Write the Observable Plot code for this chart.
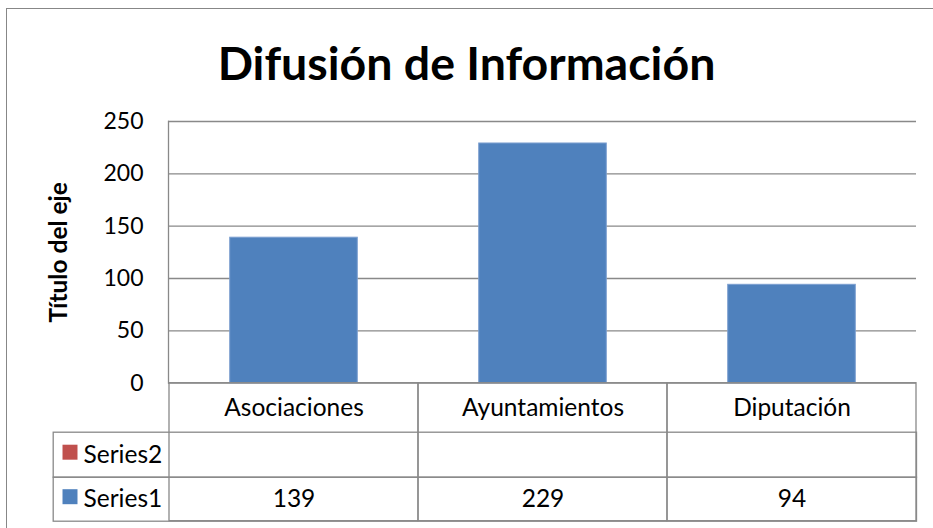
<!DOCTYPE html>
<html><head><meta charset="utf-8">
<script src="https://cdn.jsdelivr.net/npm/d3@7"></script>
<script src="https://cdn.jsdelivr.net/npm/@observablehq/plot@0.6"></script>
<style>
html,body{margin:0;background:#fff;overflow:hidden;width:933px;height:528px}
#wrap{position:relative;width:933px;height:528px;overflow:hidden}
#border{position:absolute;left:6px;top:8px;width:1000px;height:1000px;border:1.5px solid #878787;pointer-events:none}
</style>
</head><body><div id="wrap"><div id="chart"></div><div id="border"></div></div>
<script>
const categories = ["Asociaciones", "Ayuntamientos", "Diputación"];
const series1 = [139, 229, 94];
const series2 = [null, null, null];
const seriesNames = ["Series2", "Series1"];
const seriesColors = ["#c0504d", "#4f81bd"];
const yTicks = [0, 50, 100, 150, 200, 250];
const title = "Difusión de Información";
const yTitle = "Título del eje";

const W = 933, H = 528, mL = 168, mR = 17, mT = 121, plotBottom = 382.7;
const mB = H - plotBottom;
const frameH = plotBottom - mT;
const headerH = 49, rowH1 = 45, rowH2 = 44;
const tableOff = headerH + rowH1 + rowH2;
const legendLeft = 52.7;
const gridColor = "#898989";
const font = "Lato, sans-serif";
const textSize = 24.5;

const bars = categories.map((c, i) => ({category: c, value: series1[i], value2: series2[i]}));
const bandW = (W - mL - mR) / categories.length;
const barInset = bandW * 0.2435;

const rowDefs = [
  {name: seriesNames[0], color: seriesColors[0], top: headerH, h: rowH1, key: "value2"},
  {name: seriesNames[1], color: seriesColors[1], top: headerH + rowH1, h: rowH2, key: "value"}
];

const marks = [
  Plot.ruleY(yTicks, {y: d => d, stroke: gridColor, strokeWidth: 1.3}),
  Plot.barY(bars, {x: "category", y: "value", fill: seriesColors[1], stroke: "#7c9fd0", strokeWidth: 1, insetLeft: barInset, insetRight: barInset}),
  Plot.frame({anchor: "left", stroke: gridColor, strokeWidth: 1.3}),
  Plot.cell(categories, {x: d => d, fill: "none", stroke: gridColor, strokeWidth: 1.3, insetTop: frameH, insetBottom: -tableOff, insetLeft: 0, insetRight: 0}),
  Plot.text(categories, {x: d => d, frameAnchor: "bottom", dy: headerH / 2, lineAnchor: "middle", fontSize: textSize, fill: "black"}),
  Plot.axisY(yTicks, {tickSize: 0, tickPadding: 25, fontSize: 23, fill: "black", label: null}),
  Plot.text([title], {frameAnchor: "top", dx: -76, dy: -(mT - 65), lineAnchor: "middle", fontSize: 46.5, fontWeight: "bold", fill: "black"}),
  Plot.text([yTitle], {frameAnchor: "left", dx: -(mL - 59), rotate: -90, textAnchor: "middle", lineAnchor: "middle", fontSize: 24.5, fontWeight: "bold", fill: "black"})
];

for (const r of rowDefs) {
  marks.push(Plot.frame({stroke: gridColor, strokeWidth: 1.3, insetLeft: -(mL - legendLeft), insetTop: frameH + r.top, insetBottom: -(r.top + r.h)}));
  marks.push(Plot.dot([r.name], {frameAnchor: "bottom-left", dx: -(mL - 69.5), dy: r.top + r.h / 2 - 2.5, symbol: "square", r: 8.46, fill: r.color, stroke: "none"}));
  marks.push(Plot.text([r.name], {frameAnchor: "bottom-left", dx: -(mL - 83), dy: r.top + r.h / 2, textAnchor: "start", lineAnchor: "middle", fontSize: textSize, fill: "black"}));
  marks.push(Plot.text(bars.filter(d => d[r.key] != null), {x: "category", text: d => String(d[r.key]), frameAnchor: "bottom", dy: r.top + r.h / 2, lineAnchor: "middle", fontSize: textSize, fill: "black"}));
}

const chart = Plot.plot({
  width: W, height: H,
  marginLeft: mL, marginRight: mR, marginTop: mT, marginBottom: mB,
  style: {fontFamily: font, background: "white", color: "black"},
  x: {domain: categories, padding: 0, axis: null},
  y: {domain: [0, 250], axis: null},
  marks
});
document.getElementById("chart").appendChild(chart);
</script>
</body></html>
